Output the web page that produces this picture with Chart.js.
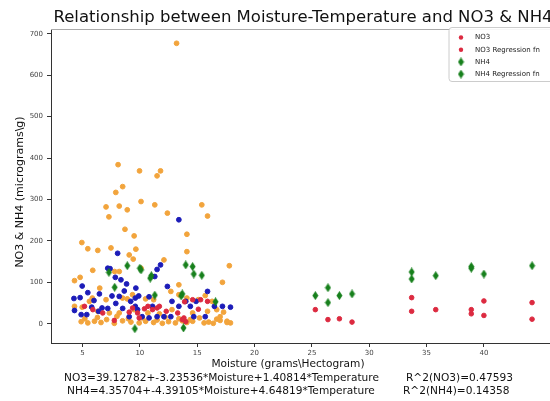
<!DOCTYPE html>
<html><head><meta charset="utf-8">
<script src="https://cdn.jsdelivr.net/npm/chart.js@4"></script>
<style>html,body{margin:0;padding:0;overflow:hidden;background:#fff;width:550px;height:401px}canvas{display:block}</style>
</head><body><canvas id="c" width="560" height="401" style="width:560px;height:401px"></canvas>
<script>
const titleText = "Relationship between Moisture-Temperature and NO3 & NH4";
const xLabel = "Moisture (grams\\Hectogram)";
const yLabel = "NO3 & NH4 (micrograms\\g)";
const eqLeft = ["NO3=39.12782+-3.23536*Moisture+1.40814*Temperature", "NH4=4.35704+-4.39105*Moisture+4.64819*Temperature"];
const eqRight = ["R^2(NO3)=0.47593", "R^2(NH4)=0.14358"];
const xTicks = [5, 10, 15, 20, 25, 30, 35, 40];
const yTicks = [0, 100, 200, 300, 400, 500, 600, 700];

// unlabeled orange samples
const orangeX = [13.2,8.1,9.97,11.8,11.5,8.5,7.9,10.1,15.4,11.3,7.05,8.2,8.9,12.4,15.9,7.3,8.7,14.1,9.5,4.94,5.46,6.33,7.48,14.1,9.07,9.42,9.65,12.1,17.8,5.89,10.1,8.2,7.8,4.79,4.3,17.2,13.4,6.5,
 5.85,7.05,8.49,8.9,9.36,10.5,11.2,12.7,13.4,14.1,15.1,15.7,16.3,16.7,17.3,5.6,4.97,4.3,6.33,7.34,8.2,9.5,10.7,11.7,12.8,14.6,15.9,17.0,17.6,
 4.88,5.46,6.04,6.61,7.77,8.49,9.22,9.94,10.5,11.2,11.96,12.5,13.1,13.7,14.1,14.6,15.6,16.0,16.4,17.0,17.6,17.9,5.2,6.3,7.1,8.0,9.0,10.2,11.5,12.2,13.4,14.4,15.2,16.7];
const orangeY = [677,384,369,369,357,331,317,295,287,287,282,284,275,267,260,258,228,216,212,196,181,177,183,174,166,156,180,154,140,129,134,126,126,112,104,100,94,86,
 62,58,62,60,70,60,58,78,70,62,58,68,54,34,28,54,40,42,30,26,26,34,26,24,34,26,30,17,6,
 5,2,6,3,1,7,4,2,6,3,1,5,2,7,3,6,2,4,1,8,3,2,12,15,10,18,12,14,9,16,12,10,14,11];

// unlabeled blue samples
const blueX = [8.06,7.2,7.4,7.86,8.35,8.84,8.64,7.57,8.2,4.97,5.46,4.25,4.79,4.3,6.0,6.47,5.8,6.7,4.88,5.37,6.4,9.65,9.6,9.2,9.9,9.6,9.8,10.8,11.1,11.5,11.8,11.3,12.4,12.8,13.4,13.4,14.0,14.9,15.9,16.5,17.2,17.9,11.5,12.1,12.7,10.8,10.2,9.07,8.5,7.9,7.2,14.4,14.7,15.7];
const blueY = [170,134,133,112,106,96,79,67,66,91,75,61,63,32,56,72,40,38,22,22,30,86,62,54,67,42,34,65,42,131,142,114,90,54,42,251,54,54,78,42,42,40,17,17,17,14,17,17,37,49,37,42,17,17];

const no3X = [7.77,9.8,11.1,10.4,13.9,13.7,14.0,15.9,15.1,9.36,11.7,9.07,12.3,13.3,9.94,5.17,6.76,5.9,13.84,14.6,15.3,10.7,11.5];
const no3Y = [8,26,34,36,53,10,5,54,35,38,42,28,30,26,14,42,26,34,14,58,58,42,38];
const no3RegX = [25.3,26.4,27.4,28.5,33.7,33.7,35.8,38.9,38.9,40.0,40.0,44.2,44.2];
const no3RegY = [34,10,12,4,63,30,34,34,24,55,20,51,11];

const nh4X = [8.9,10.0,10.1,7.3,10.9,11.0,7.8,11.3,14.0,14.6,14.7,15.4,13.7,13.6,16.6,9.56,13.8];
const nh4Y = [140,134,130,124,110,116,88,69,142,138,120,117,72,67,53,-12,-10];
const nh4RegX = [25.3,26.4,26.4,27.4,28.5,33.7,33.7,35.8,38.9,38.9,40.0,44.2];
const nh4RegY = [68,87,51,68,72,125,108,116,138,134,120,140];

const pts = (xs, ys) => xs.map((x, i) => ({x, y: ys[i]}));
function diamond(color) {
  const c = document.createElement('canvas'); c.width = 7; c.height = 9;
  const g = c.getContext('2d'); g.fillStyle = color; g.beginPath();
  g.moveTo(3.5, 0); g.lineTo(6.5, 4.5); g.lineTo(3.5, 9); g.lineTo(0.5, 4.5); g.closePath(); g.fill();
  return c;
}
const RED = '#dc2a40', GREEN = '#17801c', ORANGE = '#f2a43c', BLUE = '#1c1cb8';
const dia = diamond(GREEN);
const FONT = "'DejaVu Sans', sans-serif";

const datasets = [
  {label: 'NO3', data: pts(no3X, no3Y), backgroundColor: RED, borderColor: RED, pointRadius: 2.3, pointStyle: 'circle', order: 2, inLegend: true},
  {label: 'NO3 Regression fn', data: pts(no3RegX, no3RegY), backgroundColor: RED, borderColor: RED, pointRadius: 2.3, pointStyle: 'circle', order: 2, inLegend: true},
  {label: 'NH4', data: pts(nh4X, nh4Y), backgroundColor: GREEN, borderColor: GREEN, pointStyle: dia, order: 1, inLegend: true},
  {label: 'NH4 Regression fn', data: pts(nh4RegX, nh4RegY), backgroundColor: GREEN, borderColor: GREEN, pointStyle: dia, order: 1, inLegend: true},
  {label: '', data: pts(orangeX, orangeY), backgroundColor: ORANGE, borderColor: ORANGE, pointRadius: 2.4, pointStyle: 'circle', order: 4, inLegend: false},
  {label: '', data: pts(blueX, blueY), backgroundColor: BLUE, borderColor: BLUE, pointRadius: 2.4, pointStyle: 'circle', order: 3, inLegend: false}
];

const textPlugin = {
  id: 'texts',
  afterDraw(chart) {
    const ctx = chart.ctx, a = chart.chartArea;
    ctx.save();
    // top spine
    ctx.strokeStyle = '#aaa'; ctx.lineWidth = 1;
    ctx.beginPath(); ctx.moveTo(a.left, a.top + 0.5); ctx.lineTo(a.right, a.top + 0.5); ctx.stroke();
    ctx.fillStyle = '#111'; ctx.textBaseline = 'middle';
    // title
    ctx.font = "16.5px " + FONT; ctx.textAlign = 'center';
    ctx.fillText(titleText, 303, 18);
    // x label and equations
    ctx.font = "10.6px " + FONT;
    ctx.fillText(xLabel, 288, 364);
    ctx.textAlign = 'left';
    ctx.fillText(eqLeft[0], 64, 378);
    ctx.fillText(eqRight[0], 406, 378);
    ctx.fillText(eqLeft[1], 67, 391);
    ctx.fillText(eqRight[1], 403, 391);
    // y label
    ctx.font = "11px " + FONT;
    ctx.save(); ctx.translate(20, 192); ctx.rotate(-Math.PI / 2);
    ctx.textAlign = 'center'; ctx.fillText(yLabel, 0, 0); ctx.restore();
    // legend
    const lx = 449, ly = 27.5;
    ctx.fillStyle = 'rgba(255,255,255,0.9)'; ctx.strokeStyle = '#ccc';
    ctx.beginPath(); ctx.roundRect(lx, ly, 130, 54, 3); ctx.fill(); ctx.stroke();
    ctx.font = "7px " + FONT; ctx.textAlign = 'left';
    let yy = 37.5;
    chart.data.datasets.filter(d => d.inLegend).forEach(d => {
      if (d.pointStyle === 'circle') {
        ctx.fillStyle = d.backgroundColor; ctx.beginPath(); ctx.arc(461, yy, 2.2, 0, Math.PI * 2); ctx.fill();
      } else {
        ctx.drawImage(d.pointStyle, 461 - 3.5, yy - 4.5);
      }
      ctx.fillStyle = '#222'; ctx.fillText(d.label, 475, yy);
      yy += 12.2;
    });
    ctx.restore();
  }
};

new Chart(document.getElementById('c'), {
  type: 'scatter',
  data: {datasets},
  options: {
    responsive: false, animation: false,
    layout: {padding: {top: 29, right: 2, left: 0, bottom: 0}},
    plugins: {legend: {display: false}, title: {display: false}, tooltip: {enabled: false}},
    scales: {
      x: {
        type: 'linear', min: 2.25, max: 46.2,
        afterFit(s) { s.height = 58; },
        afterBuildTicks(s) { s.ticks = xTicks.map(v => ({value: v})); },
        grid: {drawOnChartArea: false, drawTicks: true, tickLength: 4, color: '#333'},
        border: {color: '#333', width: 1},
        ticks: {font: {size: 7, family: FONT}, color: '#444', padding: 2, maxRotation: 0, autoSkip: false}
      },
      y: {
        type: 'linear', min: -46.5, max: 711.5,
        afterFit(s) { s.width = 51; },
        afterBuildTicks(s) { s.ticks = yTicks.map(v => ({value: v})); },
        grid: {drawOnChartArea: false, drawTicks: true, tickLength: 4, color: '#333'},
        border: {color: '#333', width: 1},
        ticks: {font: {size: 7, family: FONT}, color: '#444', padding: 4, autoSkip: false}
      }
    }
  },
  plugins: [textPlugin]
});
</script>
</body></html>
